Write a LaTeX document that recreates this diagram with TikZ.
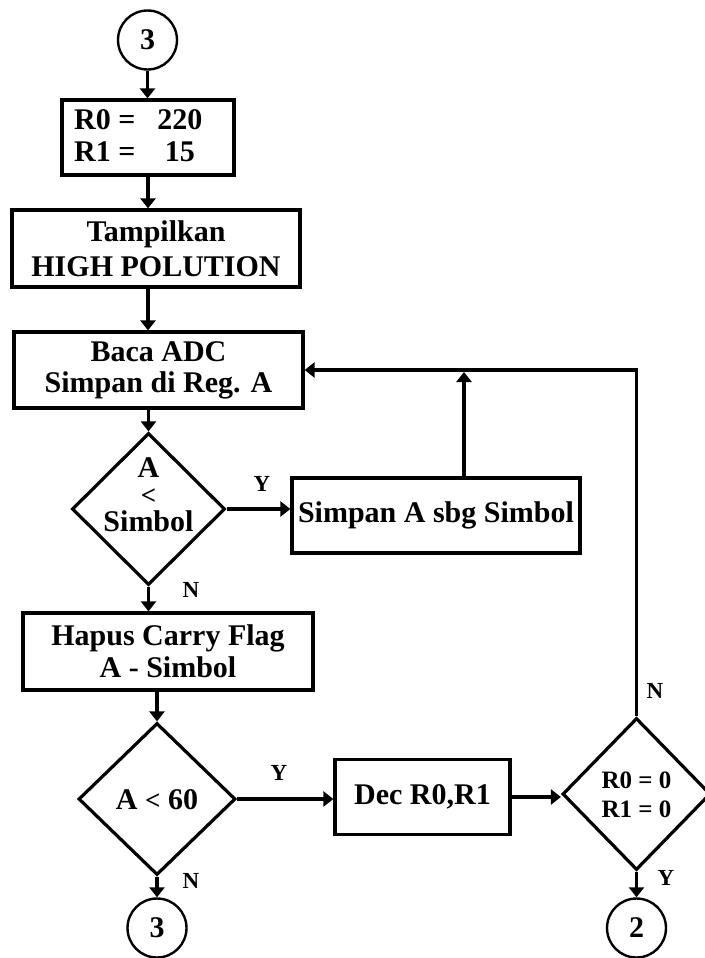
\documentclass[tikz,border=0pt]{standalone}
\usepackage{fontspec}
\setmainfont{Liberation Serif}
\usetikzlibrary{shapes.geometric,arrows.meta}
\begin{document}
\begin{tikzpicture}[x=1pt,y=-1pt,
  font=\fontsize{30}{32}\selectfont\bfseries,
  box/.style={draw,line width=3.2pt,rectangle,inner sep=0pt,align=center},
  decision/.style={draw,line width=3.2pt,diamond,inner sep=0pt},
  conn/.style={draw,line width=2.4pt,circle,minimum size=59pt,inner sep=0pt},
  arr/.style={line width=3.2pt,-{Triangle[width=15pt,length=10pt]}},
  lbl/.style={font=\fontsize{23}{24}\selectfont\bfseries,inner sep=0pt}]
\useasboundingbox (0,0) rectangle (704,958);

% connectors (circles)
\node[conn] (c3a) at (147.5,40) {3};
\node[conn] (c3b) at (157,928) {3};
\node[conn] (c2)  at (636.5,928) {2};

% process boxes
\node[box,minimum width=172pt,minimum height=75pt] (init) at (148,137.5) {};
\node[anchor=west,inner sep=0pt] (initt) at (74,139)
  {\begin{tabular}{@{}l@{\hspace{22pt}}c@{}}R0 =&220\\R1 =&15\end{tabular}};
\node[box,minimum width=288pt,minimum height=77pt,font=\fontsize{30}{35}\selectfont\bfseries] (disp) at (156,248.5) {Tampilkan\\HIGH POLUTION};
\node[box,minimum width=289pt,minimum height=76pt,font=\fontsize{30}{31}\selectfont\bfseries] (baca) at (158.5,370) {Baca ADC\\Simpan di Reg. A};
\node[box,minimum width=288pt,minimum height=75pt] (simpan) at (436,515.5) {Simpan A sbg Simbol};
\node[box,minimum width=290pt,minimum height=77pt] (hapus) at (168,651.5) {Hapus Carry Flag\\A - Simbol};
\node[box,minimum width=175pt,minimum height=75pt] (dec) at (422.5,797) {Dec R0,R1};

% decisions
\node[decision,minimum width=153pt,minimum height=152pt] (d1) at (148.5,509) {};
\node[inner sep=0pt,align=center,font=\fontsize{30}{27}\selectfont\bfseries] (d1t) at (148.5,495)
  {A\\{\fontsize{27}{27}\selectfont <}\\Simbol};
\node[decision,minimum width=157pt,minimum height=152pt] (d2) at (157,799) {};
\node[inner sep=0pt] (d2t) at (157,800) {A {\fontsize{27}{24}\selectfont <} 60};
\node[decision,minimum width=148pt,minimum height=152pt] (d3) at (636.5,794) {};
\node[inner sep=0pt,align=center,font=\fontsize{25}{29}\selectfont\bfseries] (d3t) at (636.5,795)
  {R0 = 0\\R1 = 0};

% flow
\draw[arr] (c3a) -- (c3a |- init.north);
\draw[arr] (init.south) -- (init.south |- disp.north);
\draw[arr] (disp.south -| init.south) -- (baca.north -| init.south);
\draw[arr] (baca.south -| d1.north) -- (d1.north);
\draw[arr] (d1.east) -- (d1.east -| simpan.west);
\draw[arr] (d1.south) -- (d1.south |- hapus.north);
\draw[arr] (hapus.south -| d2.north) -- (d2.north);
\draw[arr] (d2.east) -- (d2.east -| dec.west);
\draw[arr] (d2.south) -- (c3b.north);
\draw[arr] (dec.east) -- (dec.east -| d3.west);
\draw[arr] (d3.south) -- (c2.north);
\coordinate (fb) at (464,372);
\draw[arr] (simpan.north -| fb) -- (fb);
\draw[arr] (d3.north) |- (baca.east);

% labels
\node[lbl] (ly1) at (262,484) {Y};
\node[lbl] (ln1) at (191,590) {N};
\node[lbl] (ly2) at (279,773) {Y};
\node[lbl] (ln2) at (191,881) {N};
\node[lbl] (ln3) at (655,691) {N};
\node[lbl] (ly3) at (666,878) {Y};
\end{tikzpicture}
\end{document}
